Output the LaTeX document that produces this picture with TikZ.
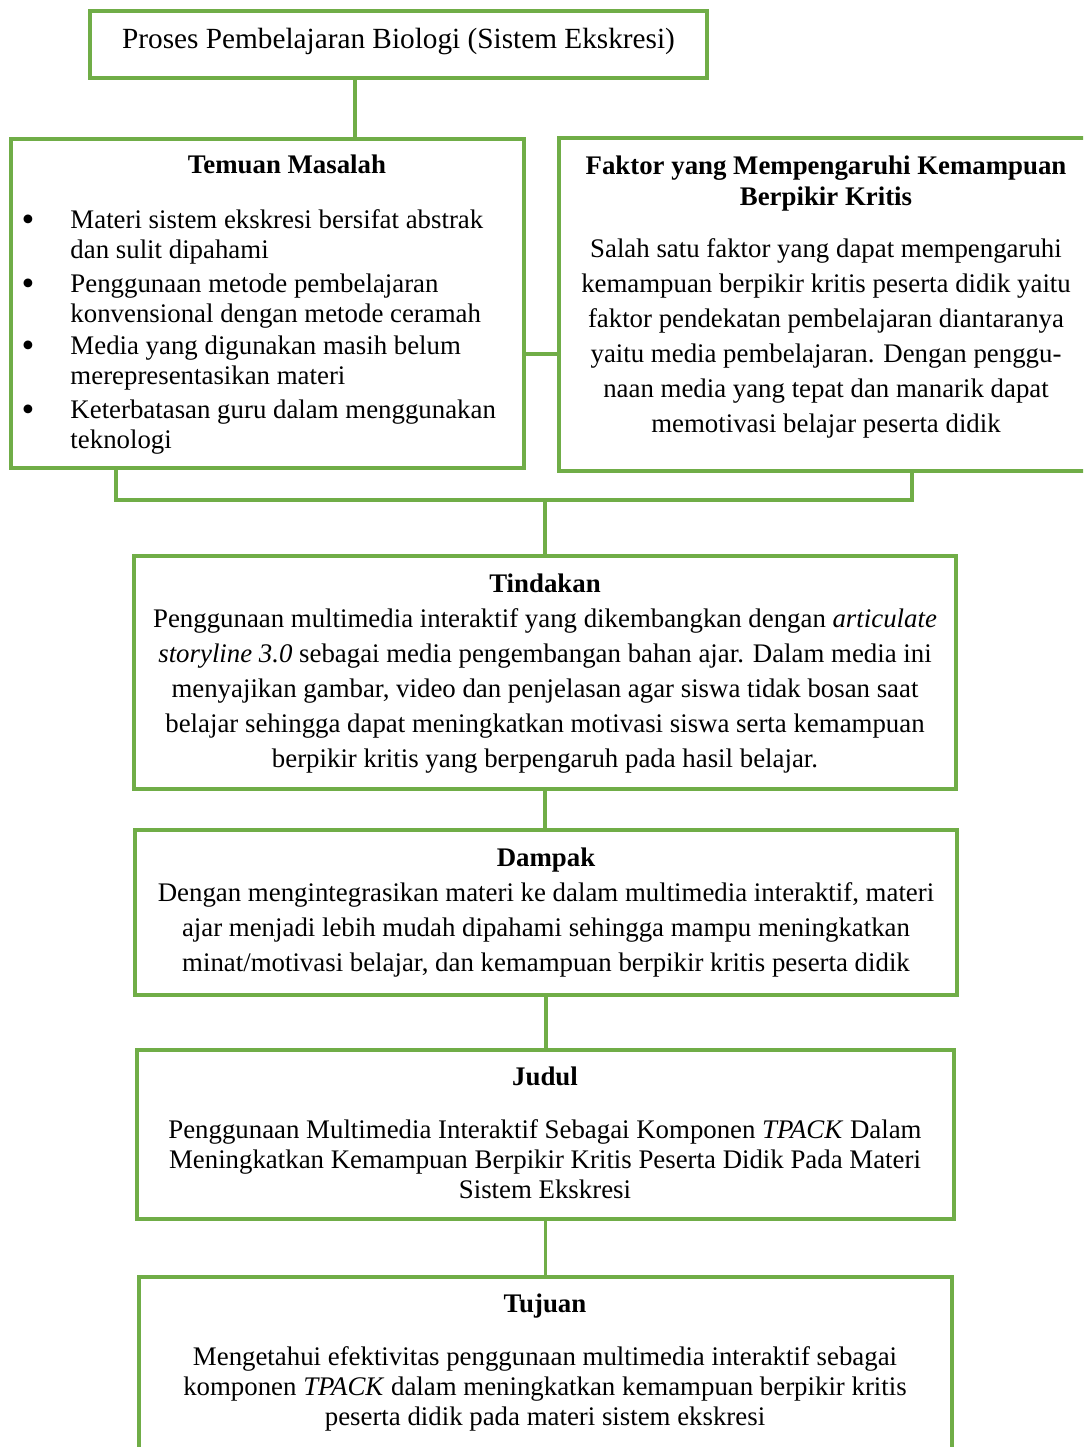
\documentclass[tikz,border=0pt]{standalone}
\usepackage{fontspec}
\setmainfont{Liberation Serif}
\usetikzlibrary{positioning,fit}
\definecolor{ijau}{RGB}{112,173,71}

\begin{document}
\begin{tikzpicture}[
    x=0.41pt, y=-0.41pt,
    kotak/.style={draw=ijau, line width=1.4pt, inner sep=0pt},
    garis/.style={draw=ijau, line width=1.4pt},
    teks/.style={inner sep=0pt, font=\fontsize{11}{14.35}\selectfont},
    rapat/.style={inner sep=0pt, font=\fontsize{11}{12.3}\selectfont}
]
\useasboundingbox (0,0) rectangle (1083,1447);
\clip (0,0) rectangle (1083,1447);

\node[kotak, fit={(90,11) (707,78)}] (proses) {};
\node[kotak, fit={(11,139) (524,468)}] (temuan) {};
\node[kotak, fit={(559,138) (1093,471)}] (faktor) {};
\node[kotak, fit={(134,556) (956,789)}] (tindakan) {};
\node[kotak, fit={(135,830) (957,995)}] (dampak) {};
\node[kotak, fit={(137,1050) (954,1219)}] (judul) {};
\node[kotak, fit={(139,1277) (952,1480)}] (tujuan) {};
\coordinate (gabung) at (545,500);

\node[inner sep=0pt, font=\fontsize{12}{14}\selectfont, anchor=base] (tproses) at (398.5,48) {Proses Pembelajaran Biologi (Sistem Ekskresi)};

\node[teks, anchor=base] (ttemuan) at (287,173) {\textbf{Temuan Masalah}};
\node[rapat, anchor=north west, align=left] (m1) at (70,209) {Materi sistem ekskresi bersifat abstrak\\dan sulit dipahami};
\node[rapat, anchor=north west, align=left] (m2) at (70,273) {Penggunaan metode pembelajaran\\konvensional dengan metode ceramah};
\node[rapat, anchor=north west, align=left] (m3) at (70,335) {Media yang digunakan masih belum\\merepresentasikan materi};
\node[rapat, anchor=north west, align=left] (m4) at (70,399) {Keterbatasan guru dalam menggunakan\\teknologi};
\foreach \y [count=\i] in {231,295,357,421}
  \node[inner sep=0pt, font=\fontsize{15}{15}\selectfont, anchor=base] (b\i) at (28,\y) {\textbullet};

\node[inner sep=0pt, font=\fontsize{11}{12.7}\selectfont\bfseries, anchor=north, align=center] (tfaktor) at (826,155) {Faktor yang Mempengaruhi Kemampuan\\Berpikir Kritis};
\node[teks, anchor=north, align=center] (isifaktor) at (826,238) {Salah satu faktor yang dapat mempengaruhi\\kemampuan berpikir kritis peserta didik yaitu\\faktor pendekatan pembelajaran diantaranya\\yaitu media pembelajaran. Dengan penggu-\\naan media yang tepat dan manarik dapat\\memotivasi belajar peserta didik};

\node[teks, anchor=north, align=center] (isitindakan) at (545,573) {\textbf{Tindakan}\\Penggunaan multimedia interaktif yang dikembangkan dengan \textit{articulate}\\\textit{storyline 3.0} sebagai media pengembangan bahan ajar. Dalam media ini\\menyajikan gambar, video dan penjelasan agar siswa tidak bosan saat\\belajar sehingga dapat meningkatkan motivasi siswa serta kemampuan\\berpikir kritis yang berpengaruh pada hasil belajar.};

\node[teks, anchor=north, align=center] (isidampak) at (546,847) {\textbf{Dampak}\\Dengan mengintegrasikan materi ke dalam multimedia interaktif, materi\\ajar menjadi lebih mudah dipahami sehingga mampu meningkatkan\\minat/motivasi belajar, dan kemampuan berpikir kritis peserta didik};

\node[teks, anchor=base] (tjudul) at (545,1085.5) {\textbf{Judul}};
\node[rapat, anchor=north, align=center] (isijudul) at (545,1119) {Penggunaan Multimedia Interaktif Sebagai Komponen \textit{TPACK} Dalam\\Meningkatkan Kemampuan Berpikir Kritis Peserta Didik Pada Materi\\Sistem Ekskresi};

\node[teks, anchor=base] (ttujuan) at (545,1312.5) {\textbf{Tujuan}};
\node[rapat, anchor=north, align=center] (isitujuan) at (545,1346) {Mengetahui efektivitas penggunaan multimedia interaktif sebagai\\komponen \textit{TPACK} dalam meningkatkan kemampuan berpikir kritis\\peserta didik pada materi sistem ekskresi};

\draw[garis] (355,0 |- proses.south) -- (355,0 |- temuan.north);
\draw[garis] (temuan.east |- 0,354) -- (faktor.west |- 0,354);
\draw[garis] (116,0 |- temuan.south) -- (116,0 |- gabung) -- (912,0 |- gabung) -- (912,0 |- faktor.south);
\draw[garis] (gabung) -- (gabung |- tindakan.north);
\draw[garis] (tindakan.south) -- (tindakan.south |- dampak.north);
\draw[garis] (dampak.south) -- (dampak.south |- judul.north);
\draw[garis] (judul.south) -- (judul.south |- tujuan.north);
\end{tikzpicture}
\end{document}
